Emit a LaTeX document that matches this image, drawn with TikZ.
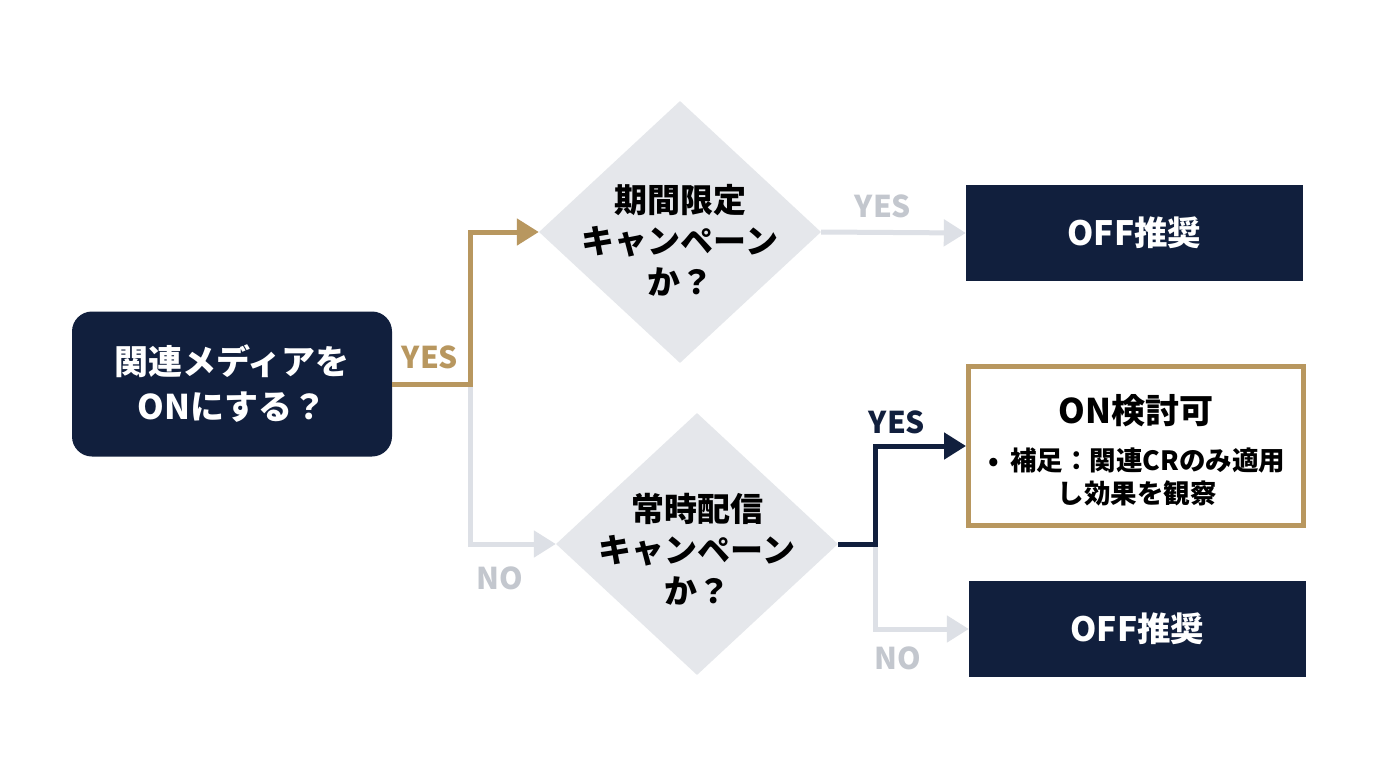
\documentclass[tikz,border=0pt]{standalone}
\usepackage{fontspec}
\setmainfont{Noto Sans CJK JP}
\usetikzlibrary{arrows.meta,shapes.geometric}
\definecolor{navy}{HTML}{111F3D}
\definecolor{gold}{HTML}{B8975F}
\definecolor{lgray}{HTML}{DDE0E6}
\definecolor{lblgray}{HTML}{C3C7CE}
\definecolor{dfill}{HTML}{E5E7EB}
\begin{document}
\begin{tikzpicture}[x=1pt,y=-1pt,
  startbox/.style={fill=navy, text=white, rounded corners=20pt, minimum width=320pt, minimum height=145pt, inner sep=0pt, align=center, font=\bfseries\fontsize{34}{45}\selectfont},
  navybox/.style={fill=navy, text=white, minimum width=337pt, minimum height=96pt, inner sep=0pt, font=\bfseries\fontsize{33.5}{40}\selectfont},
  onbox/.style={fill=white, draw=gold, line width=5pt, minimum width=335pt, minimum height=159pt, inner sep=0pt},
  dia/.style={shape=diamond, fill=dfill, minimum width=282pt, minimum height=262pt, inner sep=0pt},
  dtext/.style={align=center, text=black, font=\bfseries\fontsize{33}{41}\selectfont, inner sep=0pt},
  conn/.style={line width=5pt, line join=miter, -{Triangle[length=22pt,width=26pt]}},
  lbl/.style={font=\bfseries\fontsize{30}{30}\selectfont, inner sep=0pt}
]
\fill[white] (0,0) rectangle (1376,768);
\useasboundingbox (0,0) rectangle (1376,768);

% nodes
\node[startbox] (start) at (232,384) {関連メディアを\\ONにする？};
\node[dia] (d1) at (680,232) {};
\node[dtext] (t1) at (680,240) {期間限定\\キャンペーン\\か？};
\node[dia] (d2) at (697,544) {};
\node[dtext] (t2) at (697,549) {常時配信\\キャンペーン\\か？};
\node[navybox] (off1) at (1134.5,233) {OFF推奨};
\node[onbox] (on) at (1136,446) {};
\node[font=\bfseries\fontsize{34}{40}\selectfont, inner sep=0pt] (ont) at (1136,411) {ON検討可};
\node[align=center, font=\bfseries\fontsize{26.5}{33}\selectfont, inner sep=0pt] (onn) at (1137,477) {•\hspace{0.4em}補足：関連CRのみ適用\\し効果を観察};
\node[navybox] (off2) at (1137.5,629) {OFF推奨};

% junctions
\coordinate (j1) at (470,384);
\coordinate (j2) at (875,544);

% connectors
\draw[conn, lgray] (j1) |- (d2.west);
\draw[conn, gold] (start.east) -- (j1) |- (d1.west);
\draw[conn, lgray] (d1.east) -- (off1.west);
\draw[conn, lgray] (j2) |- (off2.west);
\draw[conn, navy] (d2.east) -- (j2) |- (on.west);

% labels
\node[lbl, text=gold] (ly1) at (430,357) {YES};
\node[lbl, text=lblgray] (ln1) at (500,578) {NO};
\node[lbl, text=lblgray] (ly2) at (883,206) {YES};
\node[lbl, text=navy] (ly3) at (897,422) {YES};
\node[lbl, text=lblgray] (ln2) at (898,658) {NO};
\end{tikzpicture}
\end{document}
